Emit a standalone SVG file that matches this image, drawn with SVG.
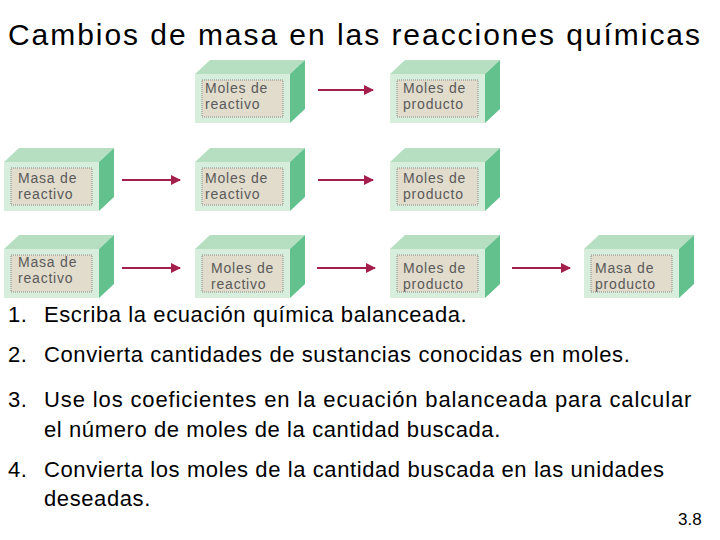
<svg xmlns="http://www.w3.org/2000/svg" width="720" height="540" viewBox="0 0 720 540">
<defs>
<style>
.fr{fill:#d6eedb}.tp{fill:#b6dfc2}.sd{fill:#62c18c}
.lb{fill:#e2dccd;stroke:#8a8a8a;stroke-width:1;stroke-dasharray:1 1}
.bt{font-family:"Liberation Sans",Arial,sans-serif;font-size:14px;letter-spacing:0.8px;fill:#5a5a5a}
.tx{font-family:"Liberation Sans",Arial,sans-serif;font-size:22px;letter-spacing:0.6px;fill:#000}
.ar{stroke:#a3204c;stroke-width:2;fill:none;marker-end:url(#ah)}
</style>
<marker id="ah" viewBox="0 0 10 10" refX="9" refY="5" markerWidth="5" markerHeight="5" orient="auto"><path d="M0,0L10,5L0,10z" fill="#a3204c"/></marker>
<symbol id="box" overflow="visible">
<path class="tp" d="M0,14L15,0H110L95,14z"/>
<path class="sd" d="M95,14L110,0V49L95,63z"/>
<rect class="fr" x="0" y="14" width="95" height="49"/>
<rect class="lb" x="7" y="20" width="81" height="37"/>
</symbol>
</defs>
<rect width="720" height="540" fill="#fff"/>
<text x="8" y="45" font-family="Liberation Sans,Arial,sans-serif" font-size="30" textLength="692" lengthAdjust="spacing" fill="#000">Cambios de masa en las reacciones químicas</text>
<g id="r1c1"><use href="#box" x="195" y="60"/><text class="bt" x="205" y="93">Moles de</text><text class="bt" x="205" y="109">reactivo</text></g>
<g id="r1c2"><use href="#box" x="390" y="60"/><text class="bt" x="403" y="93">Moles de</text><text class="bt" x="403" y="109">producto</text></g>
<g id="r2c0"><use href="#box" x="4" y="148"/><text class="bt" x="18" y="183">Masa de</text><text class="bt" x="18" y="199">reactivo</text></g>
<g id="r2c1"><use href="#box" x="195" y="148"/><text class="bt" x="205" y="183">Moles de</text><text class="bt" x="205" y="199">reactivo</text></g>
<g id="r2c2"><use href="#box" x="390" y="148"/><text class="bt" x="403" y="183">Moles de</text><text class="bt" x="403" y="199">producto</text></g>
<g id="r3c0"><use href="#box" x="4" y="235"/><text class="bt" x="18" y="267">Masa de</text><text class="bt" x="18" y="283">reactivo</text></g>
<g id="r3c1"><use href="#box" x="195" y="235"/><text class="bt" x="211" y="273">Moles de</text><text class="bt" x="211" y="289">reactivo</text></g>
<g id="r3c2"><use href="#box" x="390" y="235"/><text class="bt" x="403" y="273">Moles de</text><text class="bt" x="403" y="289">producto</text></g>
<g id="r3c3"><use href="#box" x="584" y="235"/><text class="bt" x="595" y="273">Masa de</text><text class="bt" x="595" y="289">producto</text></g>
<g id="connectors">
<path class="ar" d="M318,90H373"/>
<path class="ar" d="M122,180H180"/>
<path class="ar" d="M318,180H373"/>
<path class="ar" d="M122,268H180"/>
<path class="ar" d="M317,268H375"/>
<path class="ar" d="M512,268H570"/>
</g>
<text class="tx" x="8" y="322">1.</text><text class="tx" x="44" y="322">Escriba la ecuación química balanceada.</text>
<text class="tx" x="8" y="362">2.</text><text class="tx" x="44" y="362">Convierta cantidades de sustancias conocidas en moles.</text>
<text class="tx" x="8" y="407">3.</text><text class="tx" x="44" y="407" textLength="648" lengthAdjust="spacing">Use los coeficientes en la ecuación balanceada para calcular</text>
<text class="tx" x="44" y="437">el número de moles de la cantidad buscada.</text>
<text class="tx" x="8" y="477">4.</text><text class="tx" x="44" y="477">Convierta los moles de la cantidad buscada en las unidades</text>
<text class="tx" x="44" y="506">deseadas.</text>
<text x="678" y="525" font-family="Liberation Sans,Arial,sans-serif" font-size="17" fill="#000">3.8</text>
</svg>
